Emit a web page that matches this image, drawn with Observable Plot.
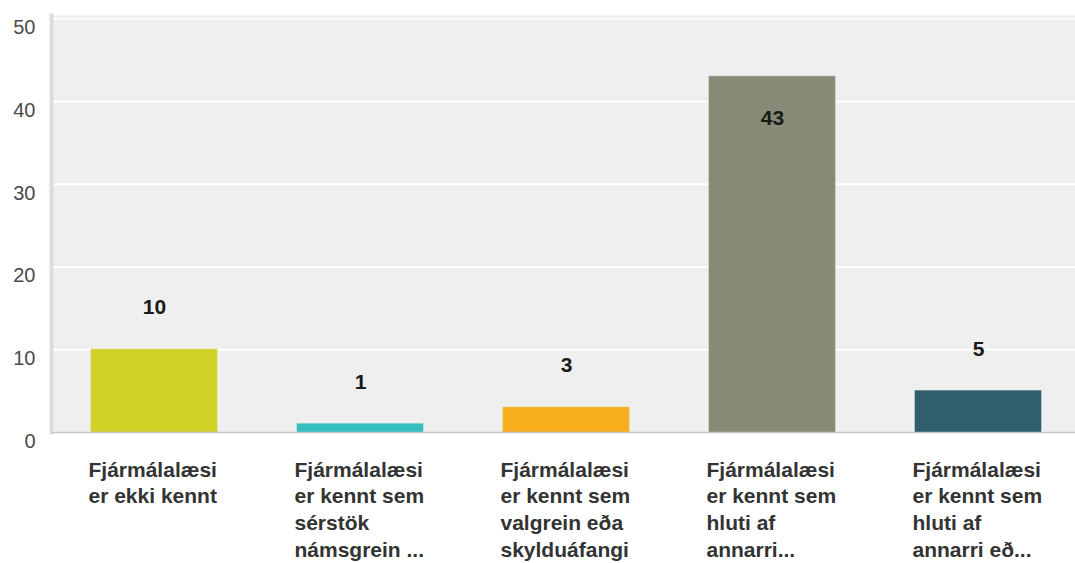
<!DOCTYPE html>
<html>
<head>
<meta charset="utf-8">
<script src="https://cdn.jsdelivr.net/npm/d3@7"></script>
<script src="https://cdn.jsdelivr.net/npm/@observablehq/plot@0.6"></script>
<style>
  html, body { margin: 0; padding: 0; background: #fff; }
  svg { display: block; }
</style>
</head>
<body>
<div id="chart"></div>
<script>
const categories = [
  "Fjármálalæsi\ner ekki kennt",
  "Fjármálalæsi\ner kennt sem\nsérstök\nnámsgrein ...",
  "Fjármálalæsi\ner kennt sem\nvalgrein eða\nskylduáfangi",
  "Fjármálalæsi\ner kennt sem\nhluti af\nannarri...",
  "Fjármálalæsi\ner kennt sem\nhluti af\nannarri eð..."
];
const values = [10, 1, 3, 43, 5];
const colors = ["#cfd328", "#35bfbf", "#f6ae1f", "#878a77", "#2e5f6a"];
const yTicks = [0, 10, 20, 30, 40, 50];

const data = categories.map((c, i) => ({cat: c, value: values[i], color: colors[i]}));

const chart = Plot.plot({
  width: 1075,
  height: 563,
  marginLeft: 51,
  marginRight: -7,
  marginTop: 15,
  marginBottom: 131,
  style: {fontFamily: "'Liberation Sans', Arial, sans-serif", background: "#fff", overflow: "hidden"},
  x: {domain: categories, paddingInner: 0.388, paddingOuter: 0.194, axis: null},
  y: {domain: [0, 50.4], axis: null},
  marks: [
    Plot.frame({fill: "#efefef", stroke: null, dx: -1}),
    Plot.gridY(yTicks.filter(d => d > 0), {stroke: "#fff", strokeOpacity: 1, strokeWidth: 2}),
    Plot.barY(data, {x: "cat", y: "value", fill: "color", stroke: "color", strokeOpacity: 0.6}),
    Plot.frame({anchor: "left", stroke: "#dcdcdc", strokeWidth: 4, dx: 0}),
    Plot.ruleY([0], {stroke: "#c8c8c8", strokeWidth: 1.5}),
    Plot.text(yTicks, {
      y: d => d, text: d => String(d), frameAnchor: "left", textAnchor: "end",
      dx: -16, dy: 9, fontSize: 20, fill: "#4a4a4a"
    }),
    Plot.text(data.filter(d => d.value <= 40), {
      x: "cat", y: "value", text: d => String(d.value), dy: -42,
      fontSize: 21, fontWeight: "bold", fill: "#1a1a1a"
    }),
    Plot.text(data.filter(d => d.value > 40), {
      x: "cat", y: "value", text: d => String(d.value), dy: 42,
      fontSize: 21, fontWeight: "bold", fill: "#1a1a1a"
    }),
    Plot.text(data, {
      x: "cat", text: "cat", frameAnchor: "bottom", textAnchor: "start", lineAnchor: "top",
      dx: -66, dy: 25, fontSize: 21, fontWeight: "bold", fill: "#333333", lineHeight: 1.28
    })
  ]
});
document.getElementById("chart").appendChild(chart);
</script>
</body>
</html>
